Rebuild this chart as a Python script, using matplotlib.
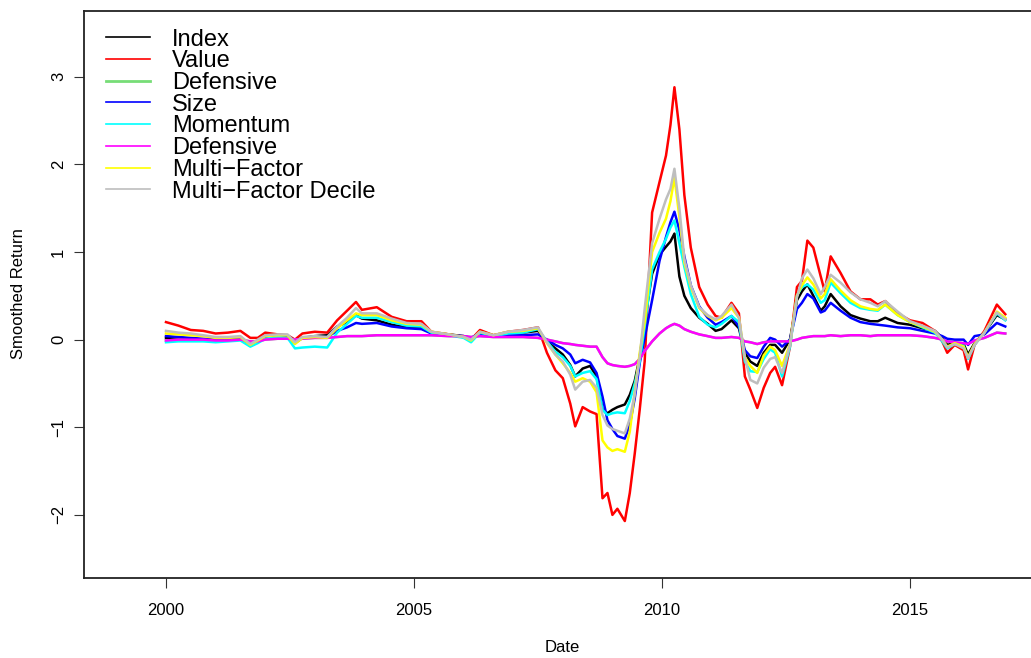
import matplotlib
matplotlib.use("Agg")
import matplotlib.pyplot as plt

plt.rcParams['font.family'] = ['Liberation Sans', 'DejaVu Sans']

dates = [2000.0, 2000.25, 2000.5, 2000.75, 2001.0, 2001.25, 2001.5, 2001.7, 2001.85, 2002.0,
         2002.25, 2002.45, 2002.6, 2002.75, 2003.0, 2003.25, 2003.45, 2003.65, 2003.83, 2003.95,
         2004.25, 2004.55, 2004.85, 2005.15, 2005.35, 2005.7, 2006.0, 2006.15, 2006.33, 2006.6,
         2006.9, 2007.2, 2007.5, 2007.68, 2007.85, 2008.0, 2008.15, 2008.25, 2008.4, 2008.55,
         2008.68, 2008.8, 2008.9, 2009.0, 2009.1, 2009.25, 2009.35, 2009.45, 2009.55, 2009.65,
         2009.8, 2009.95, 2010.08, 2010.17, 2010.25, 2010.35, 2010.45, 2010.58, 2010.75, 2010.92,
         2011.08, 2011.2, 2011.4, 2011.55, 2011.67, 2011.78, 2011.92, 2012.05, 2012.18, 2012.28,
         2012.42, 2012.58, 2012.72, 2012.82, 2012.93, 2013.05, 2013.2, 2013.28, 2013.4, 2013.6,
         2013.8, 2014.0, 2014.2, 2014.35, 2014.5, 2014.75, 2015.0, 2015.25, 2015.5, 2015.65,
         2015.75, 2015.9, 2016.08, 2016.17, 2016.3, 2016.5, 2016.75, 2016.92]

index_ret = [0.02, 0.02, 0.01, 0.0, -0.01, 0.0, 0.01, -0.07, -0.02, 0.03,
             0.05, 0.04, -0.04, 0.02, 0.04, 0.05, 0.15, 0.20, 0.28, 0.24,
             0.22, 0.17, 0.14, 0.13, 0.08, 0.06, 0.04, 0.01, 0.08, 0.05,
             0.07, 0.08, 0.10, -0.02, -0.10, -0.17, -0.29, -0.42, -0.33, -0.30,
             -0.42, -0.80, -0.84, -0.80, -0.77, -0.74, -0.63, -0.47, -0.20, 0.20,
             0.75, 0.97, 1.06, 1.12, 1.21, 0.72, 0.50, 0.36, 0.25, 0.18,
             0.10, 0.12, 0.22, 0.13, -0.15, -0.25, -0.30, -0.15, -0.06, -0.06,
             -0.15, 0.0, 0.45, 0.55, 0.63, 0.50, 0.33, 0.38, 0.52, 0.38,
             0.28, 0.24, 0.21, 0.21, 0.25, 0.19, 0.17, 0.13, 0.10, 0.02,
             -0.06, -0.04, -0.05, -0.17, -0.04, 0.08, 0.28, 0.23]

value_ret = [0.20, 0.16, 0.11, 0.10, 0.07, 0.08, 0.10, 0.02, 0.02, 0.08,
             0.06, 0.05, 0.00, 0.07, 0.09, 0.08, 0.22, 0.33, 0.43, 0.34,
             0.37, 0.26, 0.21, 0.21, 0.09, 0.06, 0.03, 0.00, 0.11, 0.05,
             0.09, 0.11, 0.14, -0.15, -0.35, -0.44, -0.73, -0.99, -0.77, -0.82,
             -0.85, -1.81, -1.75, -2.00, -1.93, -2.07, -1.75, -1.30, -0.80, -0.25,
             1.45, 1.80, 2.10, 2.45, 2.88, 2.40, 1.65, 1.05, 0.60, 0.40,
             0.27, 0.25, 0.42, 0.30, -0.42, -0.57, -0.78, -0.55, -0.38, -0.31,
             -0.52, -0.08, 0.60, 0.67, 1.13, 1.05, 0.72, 0.55, 0.95, 0.76,
             0.55, 0.46, 0.46, 0.40, 0.44, 0.30, 0.22, 0.19, 0.10, -0.02,
             -0.15, -0.06, -0.12, -0.34, -0.06, 0.10, 0.40, 0.29]

size_ret = [0.04, 0.03, 0.02, 0.01, 0.0, 0.0, 0.02, -0.05, -0.02, 0.03,
            0.04, 0.05, -0.02, 0.02, 0.03, 0.03, 0.10, 0.14, 0.19, 0.18,
            0.19, 0.15, 0.13, 0.12, 0.07, 0.05, 0.04, 0.02, 0.07, 0.04,
            0.05, 0.05, 0.06, 0.0, -0.06, -0.10, -0.17, -0.27, -0.23, -0.26,
            -0.38, -0.65, -0.92, -1.02, -1.10, -1.13, -0.97, -0.67, -0.27, 0.02,
            0.45, 0.90, 1.17, 1.34, 1.46, 1.25, 0.95, 0.62, 0.38, 0.25,
            0.17, 0.20, 0.27, 0.15, -0.12, -0.19, -0.21, -0.08, 0.02, 0.0,
            -0.08, 0.0, 0.35, 0.42, 0.52, 0.47, 0.31, 0.33, 0.42, 0.33,
            0.25, 0.20, 0.18, 0.17, 0.16, 0.14, 0.13, 0.10, 0.07, 0.04,
            0.01, 0.0, 0.0, -0.06, 0.04, 0.06, 0.19, 0.15]

momentum_ret = [-0.03, -0.02, -0.02, -0.02, -0.03, -0.02, -0.01, -0.08, -0.04, 0.01,
                0.03, 0.02, -0.10, -0.09, -0.08, -0.09, 0.08, 0.18, 0.27, 0.25,
                0.25, 0.20, 0.16, 0.15, 0.08, 0.05, 0.02, -0.03, 0.08, 0.04,
                0.07, 0.08, 0.12, -0.02, -0.14, -0.20, -0.30, -0.42, -0.38, -0.36,
                -0.45, -0.80, -0.86, -0.84, -0.83, -0.84, -0.70, -0.50, -0.25, 0.15,
                0.80, 1.00, 1.15, 1.28, 1.36, 1.10, 0.83, 0.52, 0.26, 0.17,
                0.14, 0.18, 0.27, 0.20, -0.25, -0.36, -0.37, -0.22, -0.11, -0.15,
                -0.42, -0.08, 0.50, 0.60, 0.63, 0.57, 0.42, 0.45, 0.65, 0.53,
                0.42, 0.36, 0.34, 0.33, 0.40, 0.28, 0.20, 0.14, 0.08, -0.02,
                -0.10, -0.05, -0.07, -0.22, -0.06, 0.08, 0.30, 0.22]

defensive_ret = [-0.01, 0.0, 0.0, 0.0, -0.01, -0.01, 0.0, -0.02, -0.02, 0.0,
                 0.01, 0.01, 0.0, 0.01, 0.02, 0.02, 0.03, 0.04, 0.04, 0.04,
                 0.05, 0.05, 0.05, 0.05, 0.05, 0.04, 0.04, 0.03, 0.04, 0.03,
                 0.03, 0.03, 0.02, 0.0, -0.02, -0.04, -0.05, -0.06, -0.07, -0.08,
                 -0.08, -0.20, -0.27, -0.29, -0.30, -0.31, -0.30, -0.28, -0.22, -0.13,
                 -0.02, 0.07, 0.13, 0.16, 0.18, 0.16, 0.12, 0.09, 0.06, 0.04,
                 0.02, 0.02, 0.03, 0.02, -0.02, -0.03, -0.05, -0.03, -0.02, -0.02,
                 -0.02, -0.02, 0.0, 0.02, 0.03, 0.04, 0.04, 0.04, 0.05, 0.04,
                 0.05, 0.05, 0.04, 0.05, 0.05, 0.05, 0.05, 0.04, 0.02, 0.0,
                 -0.02, -0.03, -0.04, -0.05, -0.01, 0.02, 0.08, 0.07]

multi_ret = [0.07, 0.06, 0.05, 0.04, 0.02, 0.02, 0.03, -0.06, -0.01, 0.04,
             0.05, 0.05, -0.05, 0.02, 0.03, 0.02, 0.13, 0.22, 0.30, 0.28,
             0.28, 0.22, 0.18, 0.17, 0.09, 0.06, 0.03, -0.01, 0.09, 0.05,
             0.09, 0.10, 0.13, -0.04, -0.17, -0.27, -0.38, -0.48, -0.44, -0.48,
             -0.60, -1.15, -1.23, -1.27, -1.25, -1.28, -1.05, -0.60, -0.15, 0.20,
             1.00, 1.22, 1.38, 1.58, 1.85, 1.40, 0.88, 0.60, 0.36, 0.27,
             0.22, 0.25, 0.36, 0.25, -0.20, -0.30, -0.38, -0.18, -0.08, -0.12,
             -0.30, -0.05, 0.50, 0.62, 0.71, 0.63, 0.47, 0.52, 0.69, 0.56,
             0.45, 0.38, 0.35, 0.34, 0.40, 0.28, 0.20, 0.15, 0.09, 0.0,
             -0.08, -0.04, -0.08, -0.20, -0.05, 0.08, 0.32, 0.25]

decile_ret = [0.10, 0.08, 0.07, 0.05, 0.03, 0.03, 0.04, -0.05, 0.0, 0.05,
              0.06, 0.06, -0.03, 0.03, 0.04, 0.03, 0.15, 0.25, 0.36, 0.30,
              0.30, 0.24, 0.19, 0.18, 0.09, 0.06, 0.03, 0.0, 0.09, 0.05,
              0.09, 0.11, 0.14, -0.03, -0.17, -0.25, -0.40, -0.57, -0.48, -0.46,
              -0.55, -0.86, -0.98, -1.02, -1.04, -1.07, -0.90, -0.62, -0.20, 0.35,
              1.10, 1.38, 1.60, 1.72, 1.95, 1.50, 0.92, 0.62, 0.37, 0.28,
              0.23, 0.27, 0.40, 0.25, -0.20, -0.46, -0.50, -0.32, -0.22, -0.20,
              -0.38, -0.06, 0.48, 0.70, 0.80, 0.70, 0.52, 0.60, 0.74, 0.65,
              0.54, 0.46, 0.42, 0.38, 0.44, 0.32, 0.21, 0.16, 0.10, 0.0,
              -0.09, -0.05, -0.10, -0.21, -0.06, 0.08, 0.31, 0.23]

labels = ["Index", "Value", "Defensive", "Size", "Momentum", "Defensive",
          "Multi\u2212Factor", "Multi\u2212Factor Decile"]
series = [index_ret, value_ret, defensive_ret, size_ret, momentum_ret,
          defensive_ret, multi_ret, decile_ret]
colors = ["#000000", "#FF0000", "#77DD77", "#0000FF", "#00FFFF", "#FF00FF",
          "#FFFF00", "#BEBEBE"]
xticks = [2000, 2005, 2010, 2015]
yticks = [-2, -1, 0, 1, 2, 3]

W, H = 1031, 658
fig = plt.figure(figsize=(W / 100, H / 100), dpi=100)
ax = fig.add_axes([84 / W, (H - 578) / H, (1040 - 84) / W, (578 - 11) / H])

for vals, col in zip(series, colors):
    ax.plot(dates, vals, color=col, lw=1.8, solid_joinstyle='round')

ax.set_xlim(1998.347, 2017.62)
ax.set_ylim(-2.72, 3.75)
ax.set_xticks(xticks)
ax.set_xticklabels([str(t) for t in xticks])
ax.set_yticks(yticks)
ax.set_yticklabels([str(t).replace('-', '\u2212') for t in yticks], rotation=90, va='center')
ax.tick_params(axis='both', direction='out', length=7, width=0.8, colors='#333333',
               labelcolor='black', labelsize=12)
ax.tick_params(axis='x', pad=11)
ax.tick_params(axis='y', pad=6)
for s in ax.spines.values():
    s.set_linewidth(1.3)
    s.set_color('#222222')

fig.text(562 / W, 1 - 647 / H, "Date", ha='center', va='center', fontsize=12)
fig.text(19 / W, 1 - 294 / H, "Smoothed Return", ha='center', va='center',
         rotation=90, fontsize=12)

# legend (no frame)
row0 = 37
step = 21.75
for i, (lab, col) in enumerate(zip(labels, colors)):
    yy = 1 - (row0 + i * step) / H
    lw = 2.0 if i == 2 else 1.2
    fig.add_artist(plt.Line2D([106 / W, 150 / W], [yy, yy], color=col, lw=lw,
                              transform=fig.transFigure))
    fig.text(172 / W, 1 - (row0 + i * step + 8.5) / H, lab, ha='left',
             va='baseline', fontsize=17)

fig.savefig("out.png", dpi=100)
